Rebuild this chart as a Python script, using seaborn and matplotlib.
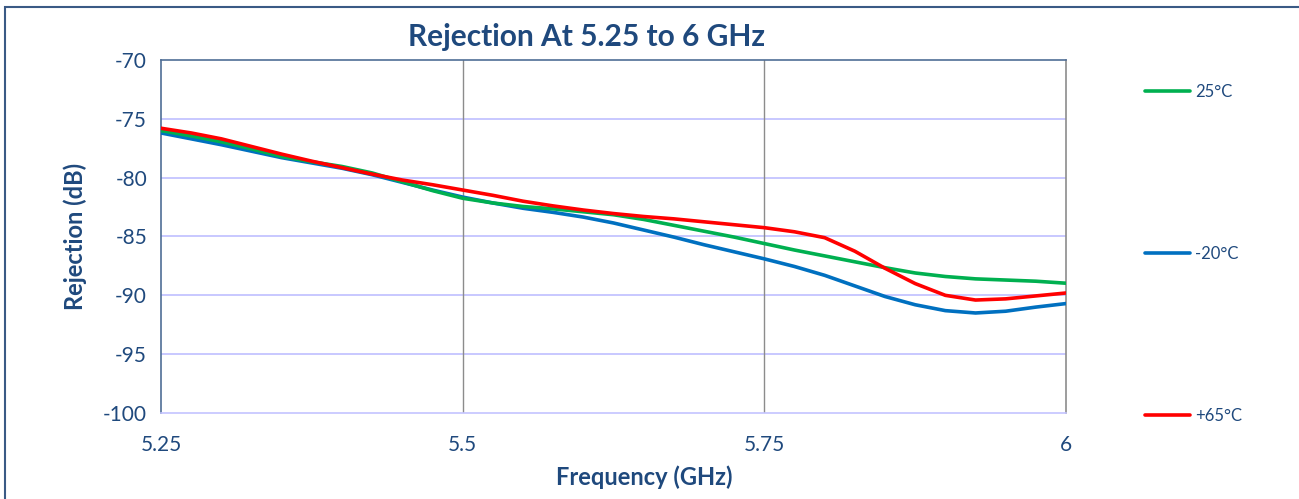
import matplotlib
matplotlib.use("Agg")
import matplotlib.pyplot as plt
import seaborn as sns
from matplotlib.patches import Rectangle

# frequency points (GHz), every 25 MHz
freq = [5.250, 5.275, 5.300, 5.325, 5.350, 5.375, 5.400, 5.425, 5.450, 5.475,
        5.500, 5.525, 5.550, 5.575, 5.600, 5.625, 5.650, 5.675, 5.700, 5.725,
        5.750, 5.775, 5.800, 5.825, 5.850, 5.875, 5.900, 5.925, 5.950, 5.975, 6.000]

# rejection (dB) per temperature
rej_25 = [-76.0, -76.45, -76.95, -77.55, -78.2, -78.65, -79.05, -79.6, -80.35, -81.1,
          -81.75, -82.15, -82.45, -82.65, -82.9, -83.15, -83.55, -84.05, -84.55, -85.05,
          -85.6, -86.15, -86.65, -87.15, -87.65, -88.1, -88.4, -88.6, -88.7, -88.8, -88.97]
rej_m20 = [-76.2, -76.7, -77.2, -77.75, -78.3, -78.75, -79.2, -79.75, -80.4, -81.05,
           -81.65, -82.15, -82.6, -82.95, -83.35, -83.85, -84.45, -85.05, -85.7, -86.3,
           -86.9, -87.55, -88.3, -89.2, -90.1, -90.8, -91.3, -91.5, -91.35, -91.0, -90.7]
rej_65 = [-75.8, -76.2, -76.7, -77.35, -78.0, -78.6, -79.15, -79.7, -80.2, -80.6,
          -81.05, -81.5, -82.0, -82.4, -82.75, -83.05, -83.3, -83.5, -83.75, -84.0,
          -84.25, -84.6, -85.1, -86.25, -87.7, -89.0, -90.0, -90.4, -90.3, -90.05, -89.8]

labels = ["25°C", "-20°C", "+65°C"]
colors = {"25°C": "#00B050", "-20°C": "#0070C0", "+65°C": "#FF0000"}

x_ticks = [5.25, 5.5, 5.75, 6]
x_tick_labels = ["5.25", "5.5", "5.75", "6"]
y_ticks = [-100, -95, -90, -85, -80, -75, -70]

TXT = "#1F497D"

sns.set_style("white")
plt.rcParams["font.family"] = ["Lato", "DejaVu Sans"]
plt.rcParams["axes.unicode_minus"] = False

fig = plt.figure(figsize=(12.99, 4.99), dpi=100)
ax = fig.add_axes([161 / 1299, 1 - 413 / 499, 905 / 1299, 353 / 499])

# gridlines first so the curves sit on top
for y in y_ticks[1:-1]:
    ax.axhline(y, color="#C4C4FF", lw=1.3, zorder=1)
for x in x_ticks[1:-1]:
    ax.axvline(x, color="#8C8C8C", lw=1.0, zorder=1)

# blue under green under red, as in the reference
sns.lineplot(x=freq, y=rej_m20, color=colors["-20°C"], lw=2.6, ax=ax, label="-20°C", zorder=3)
sns.lineplot(x=freq, y=rej_25, color=colors["25°C"], lw=2.6, ax=ax, label="25°C", zorder=3)
sns.lineplot(x=freq, y=rej_65, color=colors["+65°C"], lw=2.6, ax=ax, label="+65°C", zorder=4)

ax.set_xlim(5.25, 6)
ax.set_ylim(-100, -70)
ax.set_xticks(x_ticks)
ax.set_xticklabels(x_tick_labels)
ax.set_yticks(y_ticks)
ax.tick_params(axis="both", length=0, labelsize=15, labelcolor=TXT)
ax.tick_params(axis="x", pad=16)
ax.tick_params(axis="y", pad=10)

ax.spines["left"].set_color("#4F6E96")
ax.spines["top"].set_color("#4F6E96")
ax.spines["right"].set_color("#8C8C8C")
ax.spines["bottom"].set_color("#C4C4FF")
for s in ax.spines.values():
    s.set_linewidth(1.2)

ax.set_xlabel("Frequency (GHz)", fontsize=17, fontweight="bold", color=TXT)
ax.set_ylabel("Rejection (dB)", fontsize=17, fontweight="bold", color=TXT)
ax.xaxis.set_label_coords((644 - 161) / 905, -(465 - 413) / 353)
ax.yaxis.set_label_coords((87 - 161) / 905, 0.5)

fig.text(586 / 1299, 1 - 37 / 499, "Rejection At 5.25 to 6 GHz", fontsize=21.5,
         fontweight="bold", color=TXT, ha="center", va="center")

# legend in reference order
handles, lbls = ax.get_legend_handles_labels()
order = [lbls.index(l) for l in labels]
ax.get_legend().remove()
leg = fig.legend([handles[i] for i in order], labels, loc="upper left",
                 bbox_to_anchor=(1145 / 1299, 1 - 84 / 499), frameon=False,
                 fontsize=12, borderpad=0, borderaxespad=0, handlelength=2.7,
                 handletextpad=0.3, labelspacing=8.75)
for t in leg.get_texts():
    t.set_color(TXT)

# chart frame, running off the right and bottom like the reference crop
fig.patches.append(Rectangle((5 / 1299, -0.2), 1.3, 1.2 - 7 / 499, transform=fig.transFigure,
                             fill=False, edgecolor="#3A5A85", lw=1.5))

fig.savefig("out.png", dpi=100)
